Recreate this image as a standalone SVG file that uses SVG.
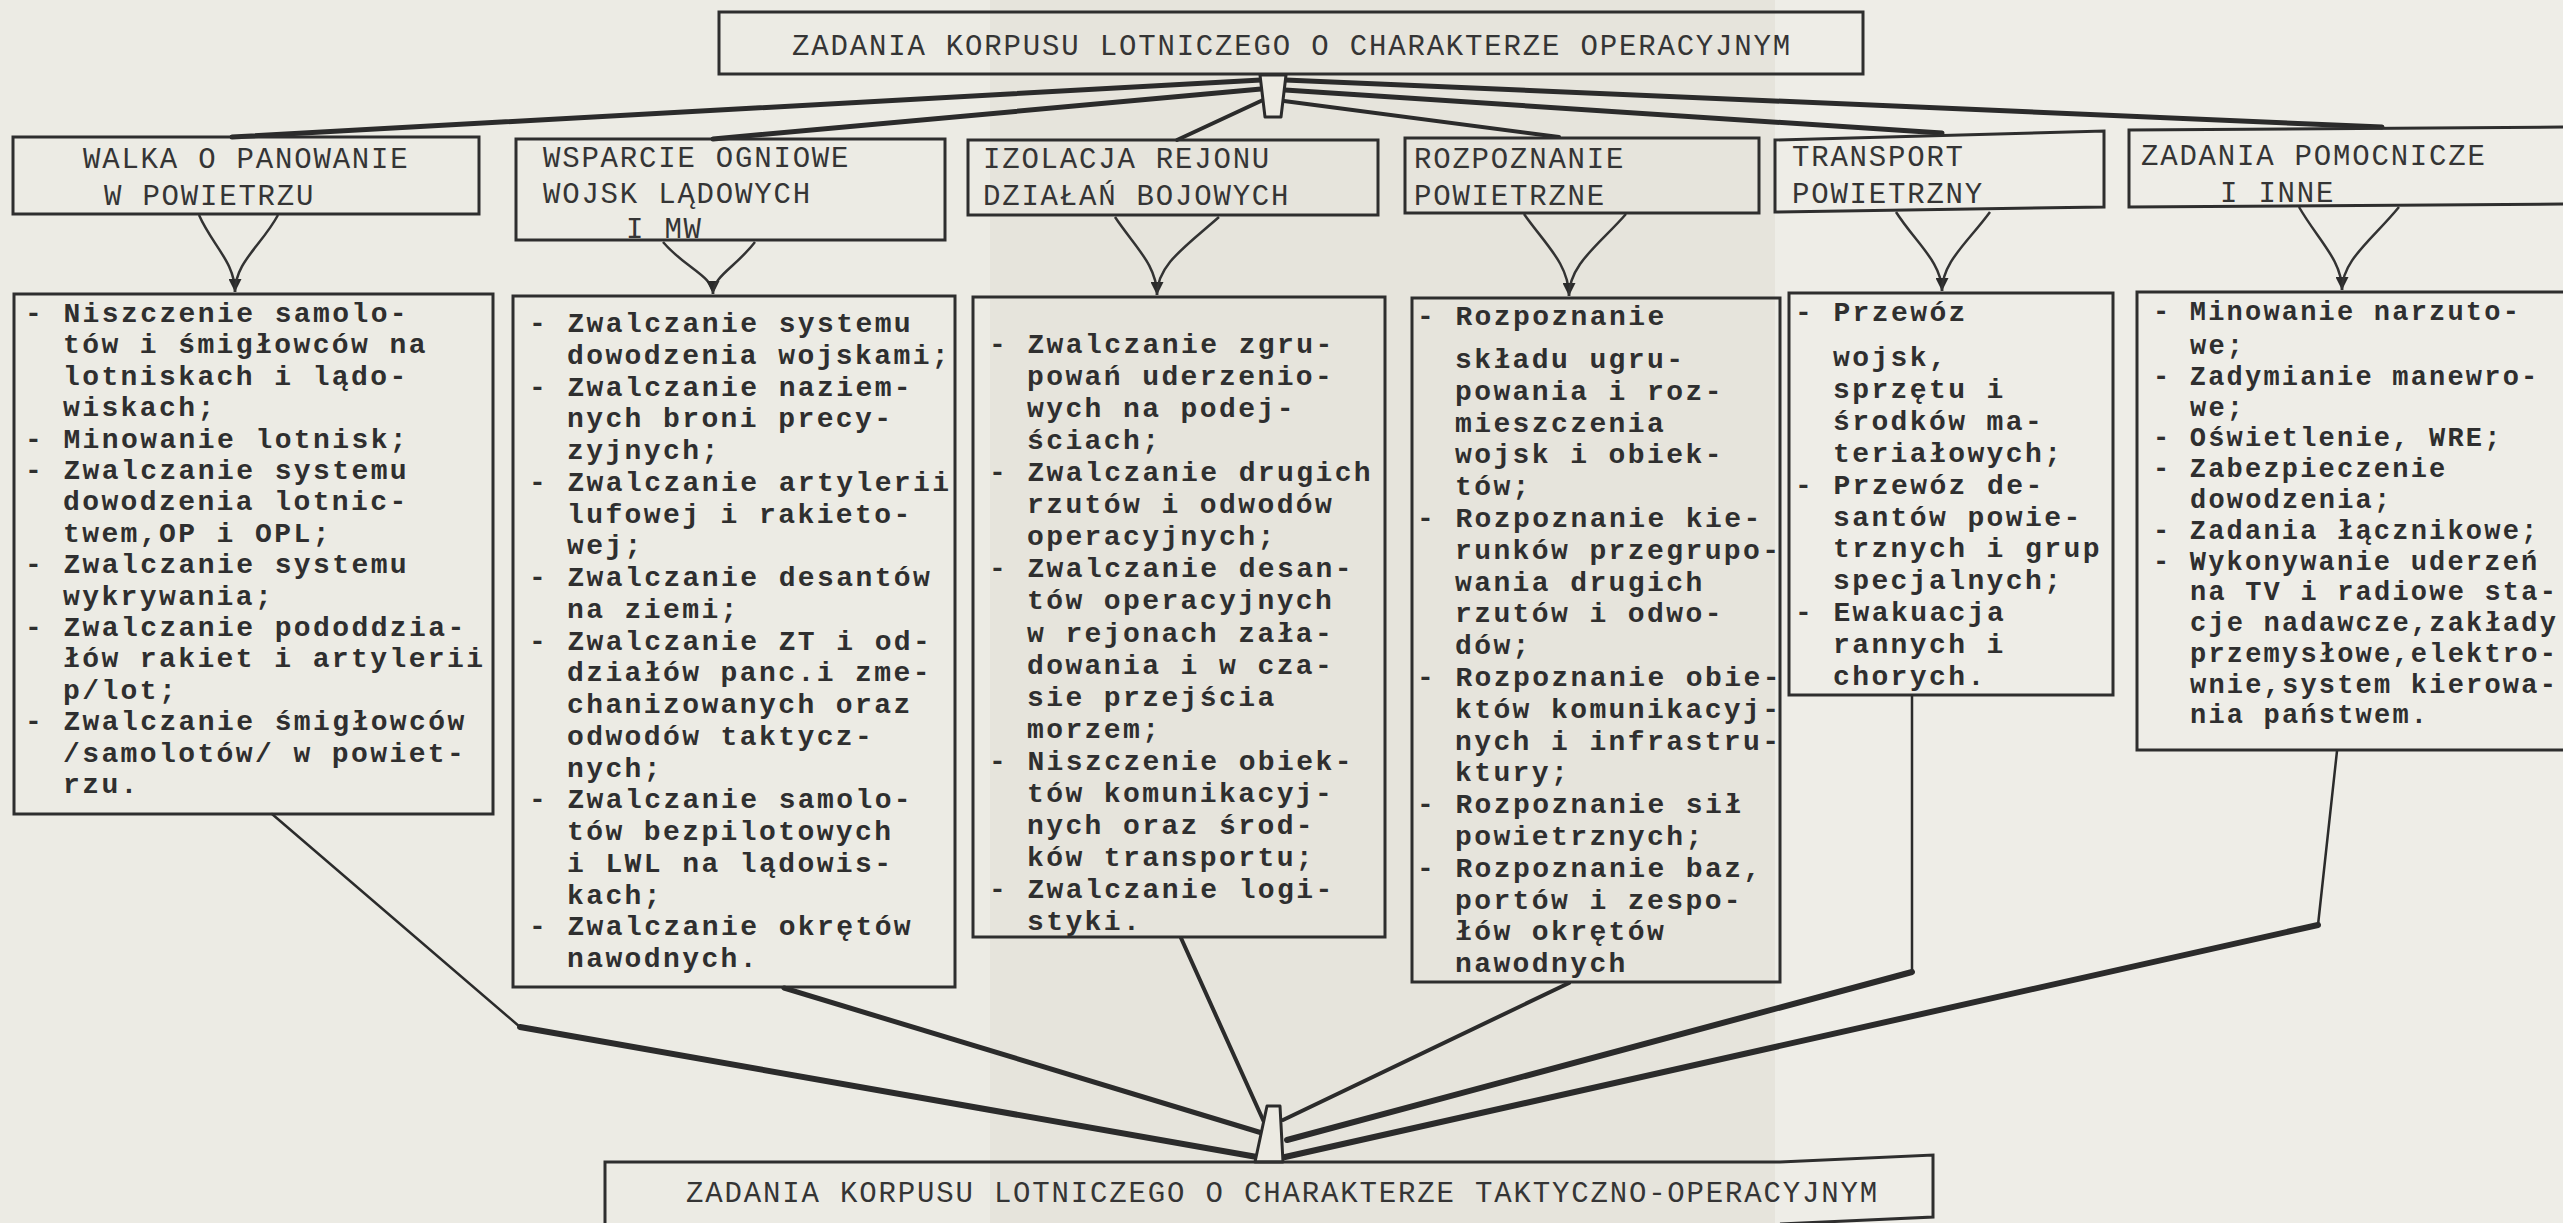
<svg xmlns="http://www.w3.org/2000/svg" width="2563" height="1223" viewBox="0 0 2563 1223">
<style>
.box{fill:none;stroke:#2e2e2e;stroke-width:3}
.hd{font-family:"Liberation Mono","Courier New",monospace;font-size:29px;letter-spacing:1.8px;fill:#353535}
.bd{font-family:"Liberation Mono","Courier New",monospace;font-size:28px;letter-spacing:2.4px;font-weight:bold;fill:#2f2f2f}
.fan{stroke:#2b2b2b;fill:none;stroke-linecap:round}
.varm{stroke:#333;stroke-width:2.5;fill:none}
.fun{fill:#eceae2;stroke:#2b2b2b;stroke-width:3;stroke-linejoin:round}
</style>
<defs>
<marker id="ah" viewBox="0 0 10 10" refX="10" refY="5" markerWidth="15" markerHeight="13" markerUnits="userSpaceOnUse" orient="auto">
<path d="M0,0 L10,5 L0,10 z" fill="#2b2b2b"/>
</marker>
</defs>
<rect x="0" y="0" width="2563" height="1223" fill="#ecebe4"/>
<rect x="990" y="0" width="785" height="1223" fill="#e6e4dc"/>
<rect x="1775" y="0" width="788" height="1223" fill="#eeede7"/>

<g id="connectors">
<g id="top-fan">
<path class="fan" stroke-width="5" d="M1261,80 L232,137"/>
<path class="fan" stroke-width="5" d="M1261,89 L713,139"/>
<path class="fan" stroke-width="4" d="M1263,100 L1177,140"/>
<path class="fan" stroke-width="4" d="M1284,101 L1559,137"/>
<path class="fan" stroke-width="5" d="M1285,90 Q1700,118 1942,133"/>
<path class="fan" stroke-width="5" d="M1285,80 Q1800,100 2382,127"/>
</g>
<g id="v-arrows">
<path class="varm" d="M199,215 C212,245 235,262 235,292" marker-end="url(#ah)"/>
<path class="varm" d="M278,215 C262,245 235,262 235,292"/>
<path class="varm" d="M663,242 C685,268 713,276 713,294" marker-end="url(#ah)"/>
<path class="varm" d="M755,242 C735,268 713,276 713,294"/>
<path class="varm" d="M1115,217 C1135,247 1157,265 1157,295" marker-end="url(#ah)"/>
<path class="varm" d="M1219,217 C1185,247 1157,265 1157,295"/>
<path class="varm" d="M1524,214 C1545,244 1569,264 1569,296" marker-end="url(#ah)"/>
<path class="varm" d="M1626,214 C1600,244 1569,264 1569,296"/>
<path class="varm" d="M1896,212 C1915,242 1942,262 1942,291" marker-end="url(#ah)"/>
<path class="varm" d="M1990,212 C1968,242 1942,262 1942,291"/>
<path class="varm" d="M2299,207 C2318,240 2342,260 2342,290" marker-end="url(#ah)"/>
<path class="varm" d="M2399,207 C2372,240 2342,260 2342,290"/>
</g>
<g id="bottom-fan">
<path class="fan" stroke-width="2.5" d="M272,814 L520,1027"/>
<path class="fan" stroke-width="6" d="M520,1027 L1257,1157"/>
<path class="fan" stroke-width="5" d="M784,988 L1262,1133"/>
<path class="fan" stroke-width="4" d="M1181,938 L1264,1122"/>
<path class="fan" stroke-width="4" d="M1569,983 L1283,1120"/>
<path class="fan" stroke-width="2.5" d="M1912,696 L1912,972"/>
<path class="fan" stroke-width="6" d="M1912,972 L1287,1140"/>
<path class="fan" stroke-width="2.5" d="M2337,751 L2318,925"/>
<path class="fan" stroke-width="6" d="M2318,925 L1285,1157"/>
</g>
<polygon class="fun" points="1260,75 1286,75 1281,117 1265,117"/>
<polygon class="fun" points="1267,1106 1280,1106 1283,1162 1255,1162" stroke-width="2.5"/>
</g>

<g id="top">
<rect class="box" x="719" y="12" width="1144" height="62"/>
<text class="hd" x="792" y="55" textLength="1000" lengthAdjust="spacing">ZADANIA KORPUSU LOTNICZEGO O CHARAKTERZE OPERACYJNYM</text>
</g>

<g id="h1">
<rect class="box" x="13" y="137" width="466" height="77"/>
<text class="hd"><tspan x="83" y="168">WALKA O PANOWANIE</tspan><tspan x="104" y="205">W POWIETRZU</tspan></text>
</g>
<g id="h2">
<rect class="box" x="516" y="139" width="429" height="101"/>
<text class="hd"><tspan x="543" y="167">WSPARCIE OGNIOWE</tspan><tspan x="543" y="203">WOJSK LĄDOWYCH</tspan><tspan x="626" y="238">I MW</tspan></text>
</g>
<g id="h3">
<rect class="box" x="968" y="140" width="410" height="75"/>
<text class="hd"><tspan x="983" y="168">IZOLACJA REJONU</tspan><tspan x="983" y="205">DZIAŁAŃ BOJOWYCH</tspan></text>
</g>
<g id="h4">
<rect class="box" x="1405" y="138" width="354" height="75"/>
<text class="hd"><tspan x="1414" y="168">ROZPOZNANIE</tspan><tspan x="1414" y="205">POWIETRZNE</tspan></text>
</g>
<g id="h5">
<polygon class="box" points="1775,140 2104,131 2104,207 1775,212"/>
<text class="hd"><tspan x="1792" y="166">TRANSPORT</tspan><tspan x="1792" y="203">POWIETRZNY</tspan></text>
</g>
<g id="h6">
<path class="box" d="M2575,127 L2129,130 L2129,207 L2575,204"/>
<text class="hd"><tspan x="2141" y="165">ZADANIA POMOCNICZE</tspan><tspan x="2220" y="202">I INNE</tspan></text>
</g>

<g id="d1">
<rect class="box" x="14" y="294" width="479" height="520"/>
<text class="bd">
<tspan x="25" y="322">- Niszczenie samolo-</tspan>
<tspan x="63" y="353">tów i śmigłowców na</tspan>
<tspan x="63" y="385">lotniskach i lądo-</tspan>
<tspan x="63" y="416">wiskach;</tspan>
<tspan x="25" y="448">- Minowanie lotnisk;</tspan>
<tspan x="25" y="479">- Zwalczanie systemu</tspan>
<tspan x="63" y="510">dowodzenia lotnic-</tspan>
<tspan x="63" y="542">twem,OP i OPL;</tspan>
<tspan x="25" y="573">- Zwalczanie systemu</tspan>
<tspan x="63" y="605">wykrywania;</tspan>
<tspan x="25" y="636">- Zwalczanie pododdzia-</tspan>
<tspan x="63" y="667">łów rakiet i artylerii</tspan>
<tspan x="63" y="699">p/lot;</tspan>
<tspan x="25" y="730">- Zwalczanie śmigłowców</tspan>
<tspan x="63" y="762">/samolotów/ w powiet-</tspan>
<tspan x="63" y="793">rzu.</tspan>
</text>
</g>

<g id="d2">
<rect class="box" x="513" y="296" width="442" height="691"/>
<text class="bd">
<tspan x="529" y="332">- Zwalczanie systemu</tspan>
<tspan x="567" y="364">dowodzenia wojskami;</tspan>
<tspan x="529" y="396">- Zwalczanie naziem-</tspan>
<tspan x="567" y="427">nych broni precy-</tspan>
<tspan x="567" y="459">zyjnych;</tspan>
<tspan x="529" y="491">- Zwalczanie artylerii</tspan>
<tspan x="567" y="523">lufowej i rakieto-</tspan>
<tspan x="567" y="554">wej;</tspan>
<tspan x="529" y="586">- Zwalczanie desantów</tspan>
<tspan x="567" y="618">na ziemi;</tspan>
<tspan x="529" y="650">- Zwalczanie ZT i od-</tspan>
<tspan x="567" y="681">działów panc.i zme-</tspan>
<tspan x="567" y="713">chanizowanych oraz</tspan>
<tspan x="567" y="745">odwodów taktycz-</tspan>
<tspan x="567" y="777">nych;</tspan>
<tspan x="529" y="808">- Zwalczanie samolo-</tspan>
<tspan x="567" y="840">tów bezpilotowych</tspan>
<tspan x="567" y="872">i LWL na lądowis-</tspan>
<tspan x="567" y="904">kach;</tspan>
<tspan x="529" y="935">- Zwalczanie okrętów</tspan>
<tspan x="567" y="967">nawodnych.</tspan>
</text>
</g>

<g id="d3">
<rect class="box" x="973" y="297" width="412" height="640"/>
<text class="bd">
<tspan x="989" y="353">- Zwalczanie zgru-</tspan>
<tspan x="1027" y="385">powań uderzenio-</tspan>
<tspan x="1027" y="417">wych na podej-</tspan>
<tspan x="1027" y="449">ściach;</tspan>
<tspan x="989" y="481">- Zwalczanie drugich</tspan>
<tspan x="1027" y="513">rzutów i odwodów</tspan>
<tspan x="1027" y="545">operacyjnych;</tspan>
<tspan x="989" y="577">- Zwalczanie desan-</tspan>
<tspan x="1027" y="609">tów operacyjnych</tspan>
<tspan x="1027" y="642">w rejonach zała-</tspan>
<tspan x="1027" y="674">dowania i w cza-</tspan>
<tspan x="1027" y="706">sie przejścia</tspan>
<tspan x="1027" y="738">morzem;</tspan>
<tspan x="989" y="770">- Niszczenie obiek-</tspan>
<tspan x="1027" y="802">tów komunikacyj-</tspan>
<tspan x="1027" y="834">nych oraz środ-</tspan>
<tspan x="1027" y="866">ków transportu;</tspan>
<tspan x="989" y="898">- Zwalczanie logi-</tspan>
<tspan x="1027" y="930">styki.</tspan>
</text>
</g>

<g id="d4">
<rect class="box" x="1412" y="298" width="368" height="684"/>
<text class="bd">
<tspan x="1417" y="325">- Rozpoznanie</tspan>
<tspan x="1455" y="368">składu ugru-</tspan>
<tspan x="1455" y="400">powania i roz-</tspan>
<tspan x="1455" y="432">mieszczenia</tspan>
<tspan x="1455" y="463">wojsk i obiek-</tspan>
<tspan x="1455" y="495">tów;</tspan>
<tspan x="1417" y="527">- Rozpoznanie kie-</tspan>
<tspan x="1455" y="559">runków przegrupo-</tspan>
<tspan x="1455" y="591">wania drugich</tspan>
<tspan x="1455" y="622">rzutów i odwo-</tspan>
<tspan x="1455" y="654">dów;</tspan>
<tspan x="1417" y="686">- Rozpoznanie obie-</tspan>
<tspan x="1455" y="718">któw komunikacyj-</tspan>
<tspan x="1455" y="750">nych i infrastru-</tspan>
<tspan x="1455" y="781">ktury;</tspan>
<tspan x="1417" y="813">- Rozpoznanie sił</tspan>
<tspan x="1455" y="845">powietrznych;</tspan>
<tspan x="1417" y="877">- Rozpoznanie baz,</tspan>
<tspan x="1455" y="909">portów i zespo-</tspan>
<tspan x="1455" y="940">łów okrętów</tspan>
<tspan x="1455" y="972">nawodnych</tspan>
</text>
</g>

<g id="d5">
<rect class="box" x="1789" y="293" width="324" height="402"/>
<text class="bd">
<tspan x="1795" y="321">- Przewóz</tspan>
<tspan x="1833" y="366">wojsk,</tspan>
<tspan x="1833" y="398">sprzętu i</tspan>
<tspan x="1833" y="430">środków ma-</tspan>
<tspan x="1833" y="462">teriałowych;</tspan>
<tspan x="1795" y="494">- Przewóz de-</tspan>
<tspan x="1833" y="526">santów powie-</tspan>
<tspan x="1833" y="557">trznych i grup</tspan>
<tspan x="1833" y="589">specjalnych;</tspan>
<tspan x="1795" y="621">- Ewakuacja</tspan>
<tspan x="1833" y="653">rannych i</tspan>
<tspan x="1833" y="685">chorych.</tspan>
</text>
</g>

<g id="d6">
<path class="box" d="M2575,292 L2137,292 L2137,750 L2575,750"/>
<text class="bd" style="font-size:27px;letter-spacing:2.2px">
<tspan x="2153" y="320">- Minowanie narzuto-</tspan>
<tspan x="2190" y="354">we;</tspan>
<tspan x="2153" y="385">- Zadymianie manewro-</tspan>
<tspan x="2190" y="416">we;</tspan>
<tspan x="2153" y="446">- Oświetlenie, WRE;</tspan>
<tspan x="2153" y="477">- Zabezpieczenie</tspan>
<tspan x="2190" y="508">dowodzenia;</tspan>
<tspan x="2153" y="539">- Zadania łącznikowe;</tspan>
<tspan x="2153" y="570">- Wykonywanie uderzeń</tspan>
<tspan x="2190" y="600">na TV i radiowe sta-</tspan>
<tspan x="2190" y="631">cje nadawcze,zakłady</tspan>
<tspan x="2190" y="662">przemysłowe,elektro-</tspan>
<tspan x="2190" y="693">wnie,system kierowa-</tspan>
<tspan x="2190" y="723">nia państwem.</tspan>
</text>
</g>

<g id="bottom">
<path class="box" d="M605,1230 L605,1162 L1780,1162 L1933,1155 L1933,1217 L1780,1224"/>
<text class="hd" x="686" y="1202" textLength="1193" lengthAdjust="spacing">ZADANIA KORPUSU LOTNICZEGO O CHARAKTERZE TAKTYCZNO-OPERACYJNYM</text>
</g>
</svg>
